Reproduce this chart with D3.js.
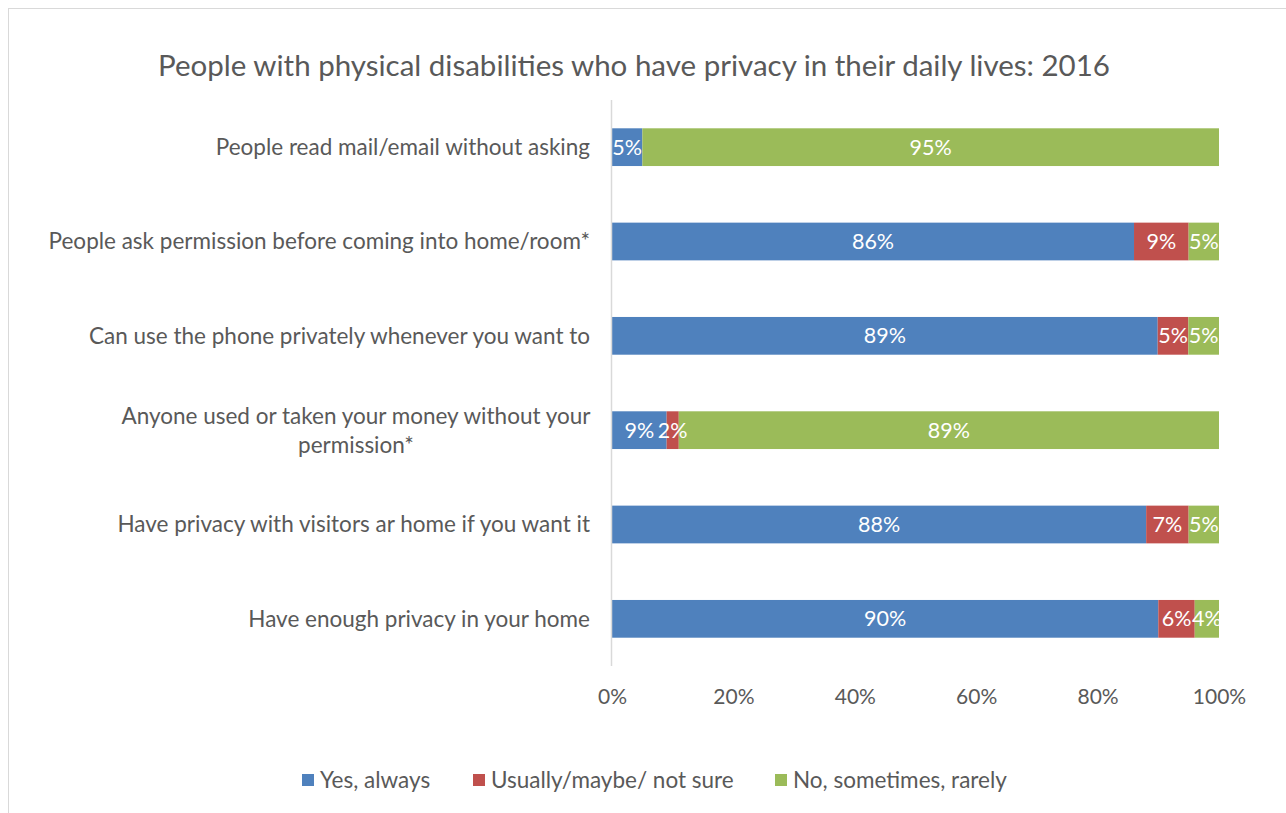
<!DOCTYPE html>
<html>
<head>
<meta charset="utf-8">
<script src="https://cdn.jsdelivr.net/npm/d3@7"></script>
<style>
  html, body { margin: 0; padding: 0; background: #fff; }
  svg { display: block; font-family: Lato, "Open Sans", "Liberation Sans", sans-serif; }
</style>
</head>
<body>
<svg id="chart" width="1286" height="813"></svg>
<script>
// Survey items, top to bottom
const categories = [
  "People read mail/email without asking",
  "People ask permission before coming into home/room*",
  "Can use the phone privately whenever you want to",
  "Anyone used or taken your money without your permission*",
  "Have privacy with visitors ar home if you want it",
  "Have enough privacy in your home"
];
// Wrapped lines for long category names
const categoryLines = [
  ["People read mail/email without asking"],
  ["People ask permission before coming into home/room*"],
  ["Can use the phone privately whenever you want to"],
  ["Anyone used or taken your money without your", "permission*"],
  ["Have privacy with visitors ar home if you want it"],
  ["Have enough privacy in your home"]
];
const seriesNames = ["Yes, always", "Usually/maybe/ not sure", "No, sometimes, rarely"];
const yesAlways   = [5, 86, 89, 9, 88, 90];
const usuallyMaybe = [0, 9, 5, 2, 7, 6];
const noSometimes = [95, 5, 5, 89, 5, 4];
const tickValues = [0, 0.2, 0.4, 0.6, 0.8, 1.0];
const colors = ["#4F81BD", "#C0504D", "#9BBB59"];

const svg = d3.select("#chart");
const textColor = "#595959";

// Chart frame
svg.append("rect")
  .attr("x", 8.5).attr("y", 8.5)
  .attr("width", 1300).attr("height", 820)
  .attr("fill", "none").attr("stroke", "#d9d9d9").attr("stroke-width", 1);

// Title
svg.append("text")
  .attr("x", 634).attr("y", 76)
  .attr("text-anchor", "middle")
  .attr("fill", textColor)
  .style("font-size", "29.5px")
  .text("People with physical disabilities who have privacy in their daily lives: 2016");

const plot = { left: 612, right: 1219, top: 100, bottom: 666 };

const x = d3.scaleLinear().domain([0, 1]).range([plot.left, plot.right]);
const y = d3.scaleBand().domain(categories)
  .range([plot.top, plot.bottom])
  .paddingInner(0.6).paddingOuter(0.3);

// Normalise each row to shares of 100%
const rows = categories.map((c, i) => ({
  category: c,
  s0: yesAlways[i], s1: usuallyMaybe[i], s2: noSometimes[i]
}));
const stack = d3.stack().keys(["s0", "s1", "s2"]).offset(d3.stackOffsetExpand);
const series = stack(rows);

const g = svg.append("g");
series.forEach((s, si) => {
  const grp = g.append("g");
  grp.selectAll("rect")
    .data(s.filter(d => d.data["s" + si] > 0))
    .join("rect")
    .attr("x", d => x(d[0]))
    .attr("y", d => y(d.data.category))
    .attr("width", d => x(d[1]) - x(d[0]))
    .attr("height", y.bandwidth())
    .attr("fill", colors[si]);
});

// Data labels (white, centred in each segment)
series.forEach((s, si) => {
  g.append("g").selectAll("text")
    .data(s.filter(d => d.data["s" + si] > 0))
    .join("text")
    .attr("x", d => (x(d[0]) + x(d[1])) / 2)
    .attr("y", d => y(d.data.category) + y.bandwidth() / 2)
    .attr("dy", "0.35em")
    .attr("text-anchor", "middle")
    .attr("fill", "#ffffff")
    .style("font-size", "21.5px")
    .text(d => d.data["s" + si] + "%");
});

// Vertical category axis line
svg.append("line")
  .attr("x1", plot.left - 0.5).attr("x2", plot.left - 0.5)
  .attr("y1", plot.top).attr("y2", plot.bottom)
  .attr("stroke", "#d9d9d9").attr("stroke-width", 1.5);

// Category labels
const catG = svg.append("g");
categories.forEach((c, i) => {
  const lines = categoryLines[i];
  const cy = y(c) + y.bandwidth() / 2;
  const lh = 29;
  const t = catG.append("text")
    .attr("fill", textColor)
    .style("font-size", "22.5px")
    .attr("text-anchor", lines.length > 1 ? "middle" : "end");
  lines.forEach((ln, li) => {
    t.append("tspan")
      .attr("x", lines.length > 1 ? 356 : 590)
      .attr("y", cy + (li - (lines.length - 1) / 2) * lh)
      .attr("dy", "0.35em")
      .text(ln);
  });
});

// Value axis (bottom) tick labels
const xAxis = d3.axisBottom(x).tickValues(tickValues)
  .tickFormat(d3.format(".0%")).tickSize(0).tickPadding(0);
const axG = svg.append("g")
  .attr("transform", `translate(0,${plot.bottom})`)
  .call(xAxis);
axG.select(".domain").remove();
axG.selectAll("text")
  .attr("y", 31).attr("dy", "0.35em")
  .attr("fill", textColor)
  .style("font-size", "21px")
  .style("font-family", "Lato, 'Open Sans', sans-serif");

// Legend
const legendX = [302, 473, 775];
const legend = svg.append("g");
seriesNames.forEach((n, i) => {
  legend.append("rect")
    .attr("x", legendX[i]).attr("y", 774)
    .attr("width", 12).attr("height", 12)
    .attr("fill", colors[i]);
  legend.append("text")
    .attr("x", legendX[i] + 18).attr("y", 780)
    .attr("dy", "0.35em")
    .attr("fill", textColor)
    .style("font-size", "22.5px")
    .text(n);
});
</script>
</body>
</html>
